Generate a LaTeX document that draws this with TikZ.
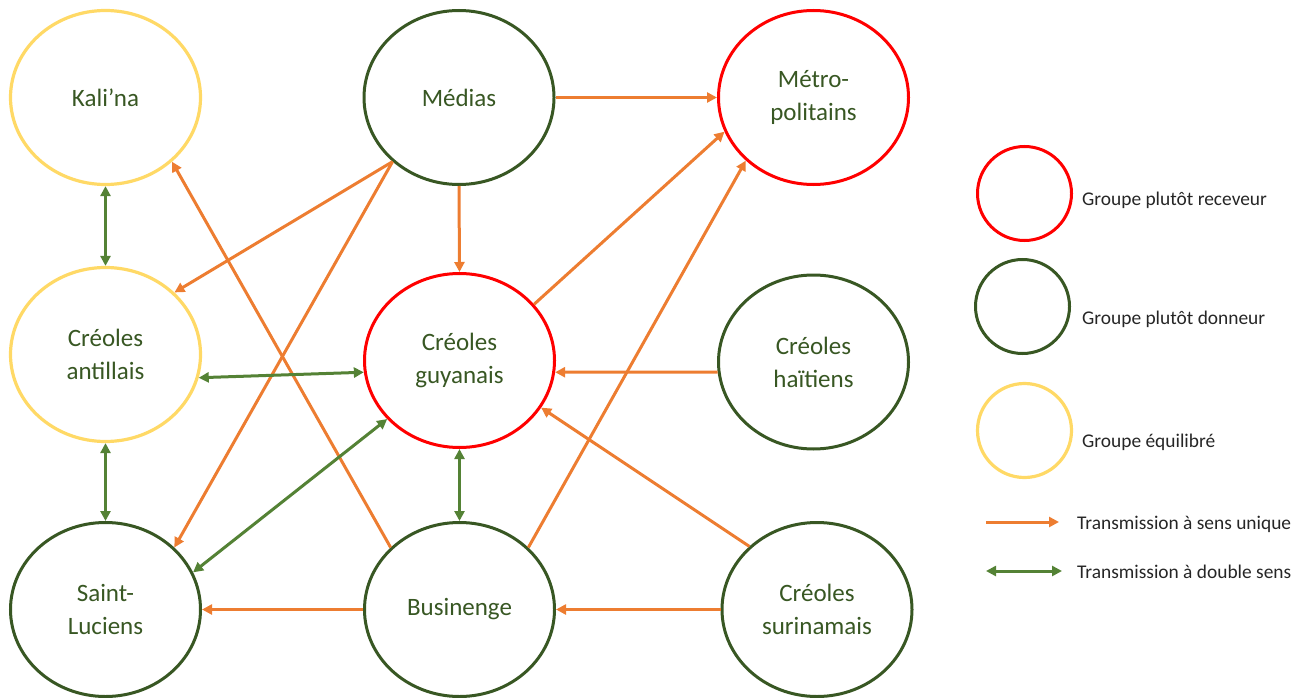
\documentclass[tikz,border=0pt]{standalone}
\usepackage{fontspec}
\setmainfont{Carlito}
\usetikzlibrary{shapes.geometric,arrows.meta}
\definecolor{dgreen}{HTML}{385723}
\definecolor{ored}{HTML}{FF0000}
\definecolor{oyellow}{HTML}{FFD966}
\definecolor{orng}{HTML}{ED7D31}
\definecolor{agreen}{HTML}{548235}
\definecolor{ltext}{HTML}{262626}
\begin{document}
\begin{tikzpicture}[x=1pt,y=-1pt,
  grp/.style={ellipse, draw, line width=3pt, minimum width=190pt, minimum height=174pt,
    inner sep=0pt, text=dgreen, font=\fontsize{25}{33}\selectfont, align=center},
  recv/.style={grp, draw=ored},
  donn/.style={grp, draw=dgreen},
  equi/.style={grp, draw=oyellow, line width=3.2pt},
  leg/.style={ellipse, line width=3pt, minimum width=94pt, minimum height=94pt, inner sep=0pt},
  legtext/.style={anchor=west, inner sep=0pt, text=ltext, font=\fontsize{19.4}{22}\selectfont},
  one/.style={draw=orng, line width=3pt, -{Triangle[length=10pt,width=10pt]}},
  two/.style={draw=agreen, line width=3pt, {Triangle[length=10pt,width=10pt]}-{Triangle[length=10pt,width=10pt]}}
]
\useasboundingbox (0,0) rectangle (1311,698);

% groups
\node[equi] (kal) at (105.5,97.5) {Kali’na};
\node[donn] (med) at (459,97.5) {Médias};
\node[recv] (met) at (813.5,97.5) {Métro-\\politains};
\node[equi] (ant) at (105.5,354.5) {Créoles\\antillais};
\node[recv] (guy) at (459.5,360.5) {Créoles\\guyanais};
\node[donn] (hai) at (813.5,362) {Créoles\\haïtiens};
\node[donn] (slu) at (105.5,609.5) {Saint-\\Luciens};
\node[donn] (bus) at (459.5,609.5) {Businenge};
\node[donn] (sur) at (817,609.5) {Créoles\\surinamais};

% one-way transmissions
\draw[one] (med.east) -- (met.west);
\draw[one] (med.south) -- (guy.north);
\draw[one] (med.224) -- (ant.42);
\draw[one] (med.224) -- (slu.42.4);
\draw[one] (bus.138) -- (kal.316.7);
\draw[one] (bus.42) -- (met.223.3);
\draw[one] (guy.37) -- (met.201.3);
\draw[one] (hai.186) -- (guy.353.4);
\draw[one] (sur.137.4) -- (guy.330.8);
\draw[one] (sur.west) -- (bus.east);
\draw[one] (bus.west) -- (slu.east);

% two-way transmissions
\draw[two] (kal.south) -- (ant.north);
\draw[two] (ant.346.9) -- (guy.187.5);
\draw[two] (ant.south) -- (slu.north);
\draw[two] (guy.219) -- (slu.23);
\draw[two] (guy.south) -- (bus.north);

% legend
\node[leg, draw=ored] (lr) at (1024.5,193.5) {};
\node[leg, draw=dgreen] (lg) at (1022.5,306.5) {};
\node[leg, draw=oyellow, line width=3.2pt] (ly) at (1024.5,430.5) {};
\node[legtext] (tr) at (1082,200) {Groupe plutôt receveur};
\node[legtext] (tg) at (1082,319) {Groupe plutôt donneur};
\node[legtext] (ty) at (1082,442) {Groupe équilibré};
\coordinate (oa) at (986,522);
\coordinate (ob) at (1059,522);
\coordinate (ga) at (986,571);
\coordinate (gb) at (1062,571);
\draw[one] (oa) -- (ob);
\draw[two] (ga) -- (gb);
\node[legtext] (to) at (1077,524) {Transmission à sens unique};
\node[legtext] (tt) at (1077,572) {Transmission à double sens};
\end{tikzpicture}
\end{document}
